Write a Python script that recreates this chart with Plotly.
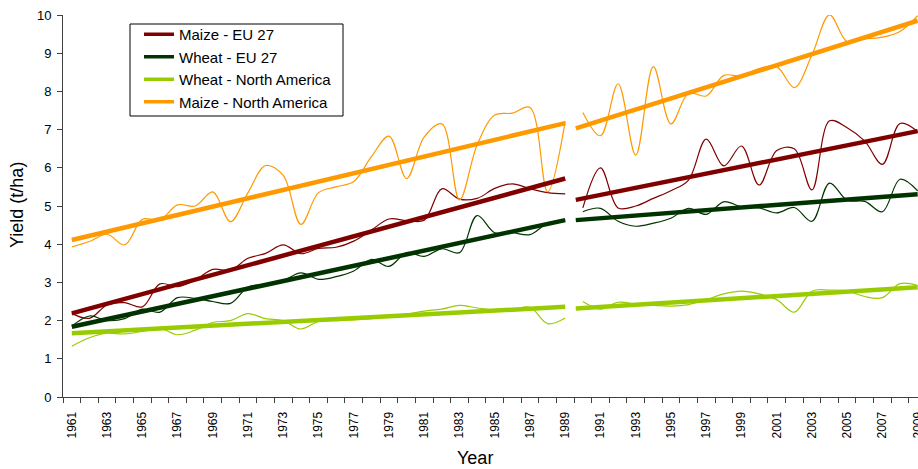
import plotly.graph_objects as go

years_1 = list(range(1961, 1990))
years_2 = list(range(1990, 2010))

maize_eu = [2.19, 2.06, 2.41, 2.47, 2.36, 2.96, 2.89, 3.06, 3.34, 3.32,
            3.63, 3.76, 3.98, 3.75, 3.89, 3.92, 4.08, 4.37, 4.66, 4.62,
            4.63, 5.45, 5.18, 5.20, 5.46, 5.58, 5.45, 5.35, 5.32,
            4.95, 6.00, 4.95, 5.00, 5.20, 5.40, 5.68, 6.75, 6.05, 6.57,
            5.55, 6.45, 6.50, 5.42, 7.23, 7.05, 6.70, 6.09, 7.16, 6.95]
wheat_eu = [1.85, 2.12, 2.00, 2.05, 2.30, 2.22, 2.60, 2.58, 2.50, 2.45,
            2.88, 2.95, 3.05, 3.25, 3.08, 3.15, 3.30, 3.60, 3.42, 3.78,
            3.68, 3.88, 3.78, 4.75, 4.30, 4.30, 4.25, 4.55, 4.63,
            4.85, 4.94, 4.60, 4.47, 4.55, 4.68, 4.94, 4.78, 5.11, 4.98,
            4.95, 4.82, 4.96, 4.60, 5.60, 5.15, 5.12, 4.85, 5.70, 5.40]
wheat_na = [1.33, 1.55, 1.67, 1.65, 1.72, 1.80, 1.63, 1.75, 1.95, 2.00,
            2.18, 2.05, 2.00, 1.78, 1.98, 2.00, 2.02, 2.05, 2.12, 2.17,
            2.25, 2.30, 2.40, 2.33, 2.28, 2.28, 2.35, 1.92, 2.07,
            2.50, 2.30, 2.48, 2.43, 2.40, 2.38, 2.42, 2.55, 2.70, 2.77,
            2.70, 2.55, 2.22, 2.77, 2.80, 2.78, 2.63, 2.60, 2.97, 2.92]
maize_na = [3.93, 4.07, 4.26, 3.98, 4.65, 4.64, 5.03, 5.00, 5.37, 4.59,
            5.35, 6.06, 5.80, 4.52, 5.35, 5.50, 5.64, 6.29, 6.83, 5.72,
            6.81, 7.15, 5.16, 6.60, 7.38, 7.43, 7.58, 5.37, 7.22,
            7.45, 6.84, 8.20, 6.33, 8.65, 7.15, 7.95, 7.88, 8.42, 8.40,
            8.60, 8.65, 8.10, 8.95, 10.00, 9.30, 9.37, 9.42, 9.57, 9.98]

# trend lines (end points)
trend_years_1 = [1961, 1989]
trend_years_2 = [1989.6, 2009.0]
maize_eu_trend_1 = [2.19, 5.72]
maize_eu_trend_2 = [5.16, 6.96]
wheat_eu_trend_1 = [1.84, 4.63]
wheat_eu_trend_2 = [4.63, 5.31]
wheat_na_trend_1 = [1.67, 2.36]
wheat_na_trend_2 = [2.32, 2.87]
maize_na_trend_1 = [4.11, 7.17]
maize_na_trend_2 = [7.03, 9.85]

series_names = ["Maize - EU 27", "Wheat - EU 27", "Wheat - North America", "Maize - North America"]
colors = ["#800000", "#003300", "#99CC00", "#FF9900"]

x_tick_years = list(range(1961, 2010, 2))
y_ticks = list(range(0, 11))

FONT = "Liberation Sans, Arial, sans-serif"

# plot-area geometry in pixels
W, H = 918, 469
ML, MR, MT, MB = 63, 0, 15, 72
PW, PH = W - ML - MR, H - MT - MB


def px_x(px):
    return (px - ML) / PW


def px_y(py):
    return (H - MB - py) / PH


fig = go.Figure()

data = [maize_eu, wheat_eu, wheat_na, maize_na]
trends = [(maize_eu_trend_1, maize_eu_trend_2), (wheat_eu_trend_1, wheat_eu_trend_2),
          (wheat_na_trend_1, wheat_na_trend_2), (maize_na_trend_1, maize_na_trend_2)]
n1 = len(years_1)

# thin observed lines
for vals, col in zip(data, colors):
    fig.add_trace(go.Scatter(x=years_1, y=vals[:n1], mode="lines",
                             line=dict(color=col, width=1.2, shape="spline", smoothing=1),
                             showlegend=False, hoverinfo="skip"))
    fig.add_trace(go.Scatter(x=years_2, y=vals[n1:], mode="lines",
                             line=dict(color=col, width=1.2, shape="spline", smoothing=1),
                             showlegend=False, hoverinfo="skip"))

# thick trend lines
for (t1, t2), col in zip(trends, colors):
    fig.add_trace(go.Scatter(x=trend_years_1, y=t1, mode="lines",
                             line=dict(color=col, width=4.5), showlegend=False))
    fig.add_trace(go.Scatter(x=trend_years_2, y=t2, mode="lines",
                             line=dict(color=col, width=4.5), showlegend=False))

# legend entries
for name, col in zip(series_names, colors):
    fig.add_trace(go.Scatter(x=[None], y=[None], mode="lines", name=name,
                             line=dict(color=col, width=3.5)))

fig.update_layout(
    width=W, height=H,
    margin=dict(l=ML, r=MR, t=MT, b=MB, autoexpand=False),
    paper_bgcolor="white", plot_bgcolor="white",
    font=dict(family=FONT, color="#000000", size=13),
    showlegend=True,
    legend=dict(x=px_x(139), y=px_y(18), xanchor="left", yanchor="top",
                borderwidth=0, bgcolor="rgba(255,255,255,0)",
                font=dict(family=FONT, size=15, color="#000000"),
                itemwidth=30, tracegroupgap=0),
    xaxis=dict(range=[1960.5, 2009.02], tickmode="array", tickvals=x_tick_years,
               ticktext=[str(y) for y in x_tick_years], tickangle=-90,
               tickfont=dict(size=12, family=FONT, color="#000000"),
               ticklabeloverflow="allow",
               ticks="outside", ticklen=9, tickcolor="rgba(0,0,0,0)",
               minor=dict(tick0=1960.5, dtick=1, ticks="outside", ticklen=5,
                          tickcolor="#404040", tickwidth=1),
               showline=True, linecolor="#404040", linewidth=1,
               showgrid=False, zeroline=False),
    yaxis=dict(range=[0, 10], tickmode="array", tickvals=y_ticks,
               tickfont=dict(size=13, family=FONT, color="#000000"),
               ticks="outside", ticklen=5, tickcolor="#404040",
               showline=True, linecolor="#404040", linewidth=1,
               showgrid=False, zeroline=False, ticklabelstandoff=3),
    shapes=[dict(type="rect", xref="paper", yref="paper",
                 x0=px_x(130), x1=px_x(343), y0=px_y(116), y1=px_y(24),
                 line=dict(color="#000000", width=1), fillcolor="white", layer="below")],
    annotations=[
        dict(text="Yield (t/ha)", x=px_x(17), y=px_y(205), xref="paper", yref="paper",
             xanchor="center", yanchor="middle",
             showarrow=False, textangle=-90, font=dict(size=18, family=FONT)),
        dict(text="Year", x=px_x(475), y=px_y(458), xref="paper", yref="paper",
             xanchor="center", yanchor="middle",
             showarrow=False, font=dict(size=18, family=FONT)),
    ],
)

fig.write_html("out.html", config={"displayModeBar": False},
               post_script="document.body.style.margin='0px';document.body.style.overflow='hidden';")
